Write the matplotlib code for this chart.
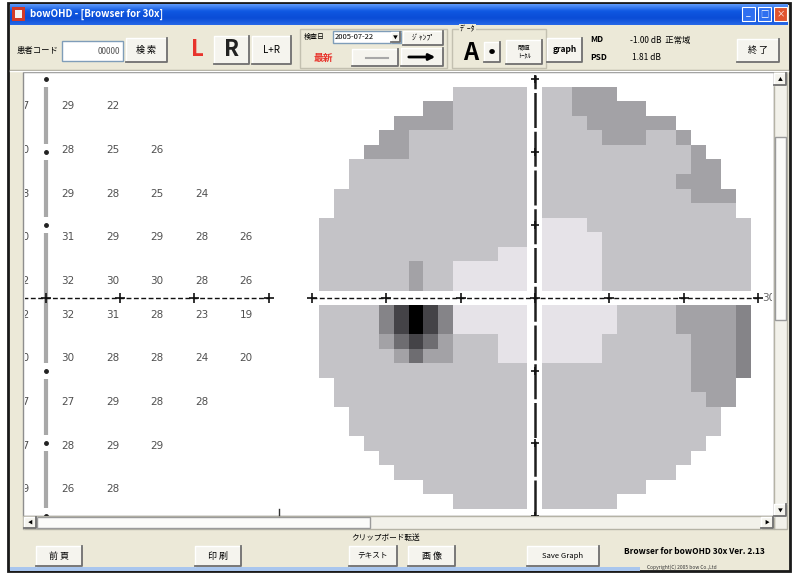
import numpy as np
import matplotlib
matplotlib.use("Agg")
import matplotlib.pyplot as plt
from matplotlib.colors import ListedColormap, BoundaryNorm, LinearSegmentedColormap
from matplotlib.patches import Rectangle

plt.rcParams['font.family'] = ['Noto Sans CJK JP', 'DejaVu Sans']

W, H = 800, 573

# ---- data ----
# grey-scale map, one char per 2 deg cell ('.' = outside the tested field)
# each row: 14 cells left of the vertical meridian, then 14 cells right of it
GRAY_UPPER = [  # top row first
    ".........22222" "22333.........",
    ".......3322222" "2233333.......",
    ".....333322222" "222333333.....",
    "....3322222222" "2222333223....",
    "...33322222222" "22222222223...",
    "..222222222222" "222222222233..",
    "..222222222222" "222222222333..",
    ".2222222222222" "2222222222333.",
    ".2222222222222" "2222222222222.",
    "22222222222222" "11122222222222",
    "22222222222222" "11112222222222",
    "22222222222211" "11112222222222",
    "22222232211111" "11112222222222",
    "22222232211111" "11112222222222",
]
GRAY_LOWER = [  # row just below the horizontal meridian first
    "22224676411111" "11111222233334",
    "22224676411111" "11111222233334",
    "22223565322211" "11112222223334",
    "22222353322211" "11112222223334",
    "22222222222222" "22222222223334",
    ".2222222222222" "2222222222333.",
    ".2222222222222" "2222222222233.",
    "..222222222222" "222222222222..",
    "..222222222222" "222222222222..",
    "...22222222222" "22222222222...",
    "....2222222222" "2222222222....",
    ".....222222222" "222222222.....",
    ".......2222222" "2222222.......",
    ".........22222" "22222.........",
]
GRAY_COLORS = ['#e6e3e8', '#c4c3c7', '#a3a2a6', '#858488',
               '#6e6d71', '#444347', '#000000']

# threshold values (dB) shown in the left panel
NUM_X = [3, 9, 15, 21, 27]
NUM_Y_UPPER = [27, 21, 15, 9, 3]
NUM_Y_LOWER = [-3, -9, -15, -21, -27]
VALUES_UPPER = [[29, 22], [28, 25, 26], [29, 28, 25, 24],
                [31, 29, 29, 28, 26], [32, 30, 30, 28, 26]]
VALUES_LOWER = [[32, 31, 28, 23, 19], [30, 28, 28, 24, 20],
                [27, 29, 28, 28], [28, 29, 29], [26, 28]]
# column scrolled half out of view at the left edge
EDGE_VALUES = [27, 30, 28, 30, 32, 32, 30, 27, 27, 29]

AXIS_TICKS = [-30, -20, -10, 0, 10, 20, 30]


fig = plt.figure(figsize=(W / 100, H / 100), dpi=100)
bg = fig.add_axes([0, 0, 1, 1])
bg.axis('off')


def rect(x0, y0, x1, y1, fc, ec='none', lw=1.0, z=1):
    bg.add_patch(Rectangle((x0, y0), x1 - x0, y1 - y0, fc=fc, ec=ec, lw=lw, zorder=z))


def button(x0, y0, x1, y1, text='', size=6.5, color='black', weight='normal'):
    rect(x0, y0, x1, y1, '#f5f4ee', z=2)
    bg.plot([x0, x0, x1], [y1, y0, y0], color='white', lw=1, zorder=3)
    bg.plot([x0, x1, x1], [y1, y1, y0], color='#6f6f6f', lw=1.3, zorder=3)
    if text:
        bg.text((x0 + x1) / 2, (y0 + y1) / 2, text, ha='center', va='center',
                fontsize=size, color=color, weight=weight, zorder=4)


def group(x0, y0, x1, y1, title=''):
    bg.add_patch(Rectangle((x0, y0), x1 - x0, y1 - y0, fill=False, ec='#c3c0b0', lw=1, zorder=1.5))
    if title:
        bg.text(x0 + 8, y0, title, fontsize=5.5, va='center', zorder=2,
                bbox=dict(fc='#ece9d8', ec='none', pad=0.5))


def label(x, y, s, size=6.5, **kw):
    bg.text(x, y, s, fontsize=size, va='center', zorder=4, **kw)


# window + title bar
rect(8, 3, 790, 571, '#ece9d8', ec='#1a1a1a', lw=2)
tcmap = LinearSegmentedColormap.from_list('title', ['#5a96f8', '#0f58e2', '#0a4cd6', '#2566e6'])
bg.imshow(np.linspace(0, 1, 20)[:, None], extent=(10, 788, 25, 4), cmap=tcmap, aspect='auto', zorder=2)
rect(12, 7, 25, 21, '#d23a2a', z=3)
rect(15, 10, 22, 18, '#f2f2f2', z=3)
bg.text(30, 14.5, 'bowOHD - [Browser for 30x]', color='white', fontsize=7, weight='bold', va='center', zorder=4)
for x0, fc, sym in [(742, '#2f6ff0', '_'), (758, '#2f6ff0', '□'), (774, '#e0542e', '×')]:
    rect(x0, 7, x0 + 13, 21, fc, ec='white', lw=0.8, z=3)
    bg.text(x0 + 6.5, 14, sym, color='white', fontsize=6, ha='center', va='center', zorder=4)

# toolbar
label(17, 50, '患者コード', 6)
rect(62, 41, 123, 61, 'white', ec='#7f9db9', z=2)
label(120, 51, '00000', 6, ha='right', color='#555555')
button(126, 38, 167, 62, '検 索')
bg.text(197, 50, 'L', color='#e8342c', fontsize=16, weight='bold', ha='center', va='center', zorder=4)
button(214, 36, 249, 64, 'R', 16, color='#222222', weight='bold')
button(252, 36, 291, 64, 'L+R', 7)
group(300, 29, 447, 68)
label(304, 37, '検査日', 5)
rect(333, 31, 401, 43, 'white', ec='#7f9db9', z=2)
label(335, 37, '2005-07-22', 5.5)
button(391, 32, 400, 42, '▼', 3.5)
button(403, 31, 443, 45, 'ｼﾞｬﾝﾌﾟ', 5.5)
label(314, 58, '最新', 7, color='#e8342c', weight='bold')
button(352, 49, 398, 66)
bg.plot([366, 388], [57.5, 57.5], color='#a8a8a8', lw=1.5, zorder=4)
button(401, 48, 443, 66)
bg.annotate('', xy=(438, 57), xytext=(406, 57), zorder=4,
            arrowprops=dict(arrowstyle='-|>', lw=2, color='black', mutation_scale=9))
group(452, 29, 546, 68, 'ﾃﾞｰﾀ')
bg.text(471, 53, 'A', fontsize=17, weight='bold', ha='center', va='center', zorder=4)
button(484, 42, 500, 62, '●', 4.5)
button(506, 40, 542, 64, '閾値\nﾄｰﾀﾙ', 4.5)
button(547, 38, 582, 62, 'graph', 6, weight='bold')
label(590, 40, 'MD', 6, weight='bold')
label(630, 40, '-1.00 dB  正常域', 6)
label(590, 58, 'PSD', 6, weight='bold')
label(632, 58, '1.81 dB', 6)
button(737, 39, 779, 62, '終 了')
bg.plot([10, 788], [69.5, 69.5], color='#a6a395', lw=1, zorder=2)
bg.plot([10, 788], [70.5, 70.5], color='white', lw=1, zorder=2)

# main panel and scroll bars
rect(23, 72, 774, 516, 'white', ec='#8e8e8e', z=1)
rect(774, 72, 787, 529, '#f2f1ea', ec='#b5b3a6', z=1.2)
button(774, 73, 786, 85, '▲', 3.5)
rect(775, 137, 786, 320, '#fbfbf9', ec='#9a9a9a', z=2)
button(774, 504, 786, 516, '▼', 3.5)
rect(23, 516, 774, 529, '#f2f1ea', ec='#b5b3a6', z=1.2)
button(24, 517, 36, 528, '◀', 3.5)
rect(37, 517, 370, 528, '#fbfbf9', ec='#9a9a9a', z=2)
button(761, 517, 773, 528, '▶', 3.5)
bg.plot([279, 279], [509, 515], color='#333333', lw=1, zorder=3)

# bottom bar
button(36, 546, 82, 566, '前 頁')
button(195, 546, 241, 566, '印 刷')
label(351, 538, 'クリップボード転送', 5.5)
button(349, 546, 397, 566, 'テキスト', 5.5)
button(408, 546, 455, 566, '画 像')
button(527, 546, 599, 566, 'Save Graph', 5.5)
bg.text(694, 552, 'Browser for bowOHD 30x Ver. 2.13', fontsize=6, style='italic',
        weight='bold', ha='center', va='center', zorder=4)
rect(10, 567, 640, 571, '#a9c6ee', z=2)
bg.text(682, 567.5, 'Copyright(C) 2005 bow Co.,Ltd', fontsize=3.5, ha='center', va='center', color='#333333', zorder=4)

bg.set_xlim(0, W)
bg.set_ylim(H, 0)


def deg_axes(x0, y0, x1, y1, cx, cy, sx, sy):
    ax = fig.add_axes([x0 / W, 1 - y1 / H, (x1 - x0) / W, (y1 - y0) / H])
    ax.set_xlim((x0 - cx) / sx, (x1 - cx) / sx)
    ax.set_ylim((cy - y1) / sy, (cy - y0) / sy)
    ax.axis('off')
    return ax


# ---- left panel: numeric values ----
num = deg_axes(25, 73, 298, 515, 45.5, 297.8, 7.435, 7.28)
marks = sorted(t for t in AXIS_TICKS if t != 0)
for a, b in zip(marks[:-1], marks[1:]):
    num.plot([0, 0], [a + 1.1, b - 1.1], color='#a8a8a8', lw=3, solid_capstyle='butt')
num.plot(np.zeros(len(marks)), marks, ls='none', marker='o', ms=2.5, color='#222222')
pos_ticks = [t for t in AXIS_TICKS if t >= 0]
num.plot([-3, pos_ticks[-1]], [0, 0], color='#111111', lw=1, dashes=(3.5, 1.8))
num.plot(pos_ticks, np.zeros(len(pos_ticks)), ls='none', marker='+', ms=7, mew=1.2, color='#111111')

for y, vals in zip(NUM_Y_UPPER, VALUES_UPPER):
    for x, v in zip(NUM_X, vals):
        num.text(x, y, str(v), ha='center', va='top', fontsize=7.5, color='#505050', family='DejaVu Sans')
for y, vals in zip(NUM_Y_LOWER, VALUES_LOWER):
    for x, v in zip(NUM_X, vals):
        num.text(x, y, str(v), ha='center', va='bottom', fontsize=7.5, color='#505050', family='DejaVu Sans')
for y, v in zip(NUM_Y_UPPER + NUM_Y_LOWER, EDGE_VALUES):
    num.text(-3.1, y, str(v), ha='center', va='top' if y > 0 else 'bottom', fontsize=7.5,
             color='#505050', family='DejaVu Sans', clip_on=True)

# ---- right panel: grey-scale map ----
gmap = deg_axes(300, 73, 772, 515, 534.9, 297.8, 7.435, 7.28)
grid = np.full((29, 29), np.nan)
for i, row in enumerate(GRAY_UPPER + [None] + GRAY_LOWER):
    if row is None:
        continue
    for j, ch in enumerate(row[:14] + '.' + row[14:]):
        if ch != '.':
            grid[i, j] = int(ch)
edges = np.arange(-29, 30, 2)
cmap = ListedColormap(GRAY_COLORS)
norm = BoundaryNorm(np.arange(0.5, len(GRAY_COLORS) + 1), cmap.N)
gmap.pcolormesh(edges, edges[::-1], np.ma.masked_invalid(grid), cmap=cmap, norm=norm,
                edgecolors='face', linewidth=0, antialiased=False)

gmap.plot([0, 0], [-29.8, 30.6], color='#1e1e1e', lw=1.8, dashes=(14, 1.5))
vmarks = [t for t in AXIS_TICKS if t != 0]
gmap.plot(np.zeros(len(vmarks)), vmarks, ls='none', marker='+', ms=6, mew=1.2, color='#111111')
gmap.plot([AXIS_TICKS[0], AXIS_TICKS[-1]], [0, 0], color='#111111', lw=1, dashes=(3.5, 1.8))
gmap.plot(AXIS_TICKS, np.zeros(len(AXIS_TICKS)), ls='none', marker='+', ms=7, mew=1.2, color='#111111')
gmap.text(30.6, 0, str(AXIS_TICKS[-1]), ha='left', va='center', fontsize=7.5,
          color='#666666', family='DejaVu Sans', clip_on=True)

fig.savefig('out.png', dpi=100)
